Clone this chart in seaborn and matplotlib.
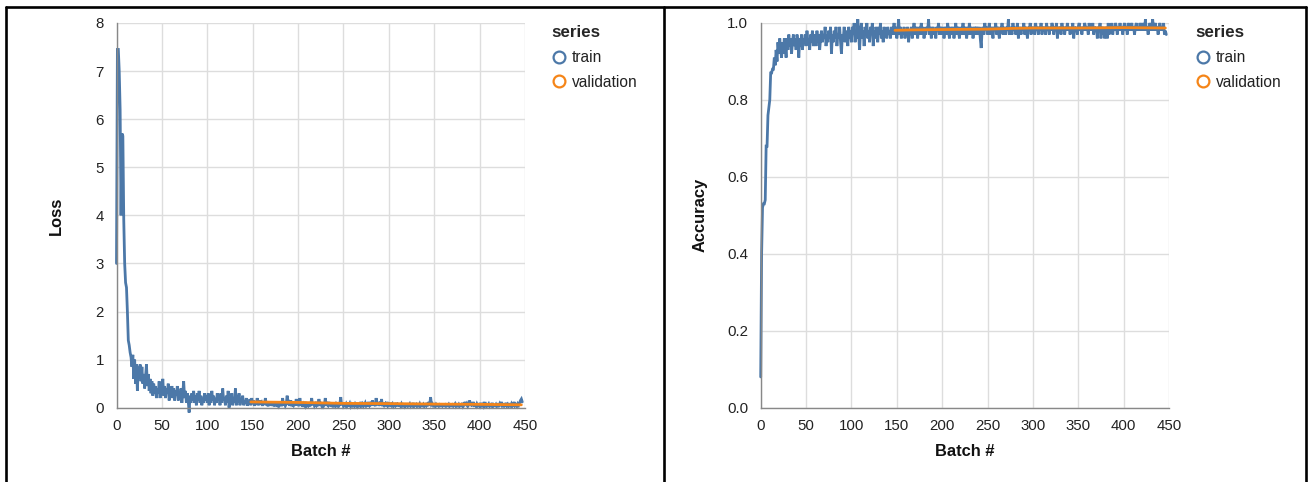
import numpy as np
import pandas as pd
import matplotlib
matplotlib.use("Agg")
import matplotlib.pyplot as plt
from matplotlib.lines import Line2D
import seaborn as sns

# ---------------- data (one value per batch) ----------------
train_loss = [
    3.0, 7.45, 7.45, 7.0, 6.2, 4.0, 5.7, 5.65, 3.9, 3.0, 2.6, 2.5, 2.0, 1.4, 1.3, 1.15, 1.05, 0.85, 1.1, 0.6,
    1.0, 0.5, 0.9, 0.35, 0.85, 0.6, 0.9, 0.55, 0.85, 0.5, 0.7, 0.4, 0.65, 0.9, 0.45, 0.7, 0.35, 0.6, 0.3, 0.55,
    0.25, 0.5, 0.3, 0.45, 0.2, 0.4, 0.3, 0.55, 0.2, 0.45, 0.3, 0.6, 0.25, 0.45, 0.2, 0.4, 0.3, 0.5, 0.15, 0.35,
    0.25, 0.45, 0.2, 0.4, 0.15, 0.35, 0.25, 0.45, 0.15, 0.3, 0.2, 0.4, 0.1, 0.3, 0.55, 0.2, 0.35, 0.1, 0.3, 0.15,
    -0.1, 0.25, 0.1, 0.3, 0.15, 0.35, 0.1, 0.25, 0.05, 0.3, 0.15, 0.35, 0.1, 0.25, 0.05, 0.2, 0.1, 0.3, 0.15, 0.25,
    0.1, 0.3, 0.05, 0.2, 0.1, 0.35, 0.15, 0.25, 0.05, 0.2, 0.1, 0.3, 0.15, 0.25, 0.05, 0.3, 0.1, 0.4, 0.15, 0.2,
    0.05, 0.25, 0.1, 0.35, 0.0, 0.2, 0.1, 0.3, 0.05, 0.2, 0.1, 0.4, 0.05, 0.25, 0.1, 0.3, 0.05, 0.2, 0.1, 0.25,
    0.05, 0.15, 0.08, 0.2, 0.04, 0.12, 0.06, 0.18, 0.05, 0.2, 0.08, 0.15, 0.04, 0.12, 0.06, 0.2, 0.05, 0.1, 0.15, 0.06,
    0.1, 0.04, 0.12, 0.06, 0.2, 0.05, 0.08, 0.03, 0.1, 0.05, 0.12, 0.04, 0.08, 0.06, 0.1, 0.03, 0.07, 0.05, 0.1, 0.04,
    0.08, 0.12, 0.03, 0.2, 0.05, 0.1, 0.04, 0.08, 0.25, 0.06, 0.1, 0.04, 0.15, 0.03, 0.08, 0.05, 0.1, 0.04, 0.18, 0.06,
    0.1, 0.03, 0.2, 0.05, 0.1, 0.02, 0.08, 0.05, 0.12, 0.03, 0.06, 0.04, 0.1, 0.03, 0.07, 0.2, 0.05, 0.1, 0.04, 0.08,
    0.05, 0.12, 0.03, 0.18, 0.05, 0.08, 0.04, 0.1, 0.03, 0.06, 0.2, 0.04, 0.08, 0.05, 0.12, 0.03, 0.07, 0.05, 0.1, 0.04,
    0.06, 0.03, 0.08, 0.05, 0.1, 0.04, 0.07, 0.22, 0.05, 0.1, 0.03, 0.06, 0.04, 0.08, 0.03, 0.06, 0.05, 0.09, 0.03, 0.07,
    0.04, 0.06, 0.03, 0.08, 0.05, 0.1, 0.03, 0.06, 0.04, 0.12, 0.05, 0.08, 0.03, 0.06, 0.1, 0.04, 0.07, 0.03, 0.12, 0.05,
    0.08, 0.04, 0.15, 0.05, 0.1, 0.03, 0.2, 0.06, 0.12, 0.04, 0.08, 0.05, 0.18, 0.03, 0.1, 0.05, 0.08, 0.03, 0.12, 0.04,
    0.07, 0.03, 0.1, 0.05, 0.08, 0.03, 0.06, 0.04, 0.1, 0.03, 0.07, 0.05, 0.06, 0.03, 0.08, 0.04, 0.06, 0.03, 0.09, 0.04,
    0.06, 0.03, 0.05, 0.08, 0.03, 0.06, 0.04, 0.1, 0.03, 0.05, 0.07, 0.03, 0.06, 0.04, 0.08, 0.03, 0.05, 0.04, 0.07, 0.03,
    0.06, 0.04, 0.1, 0.03, 0.12, 0.05, 0.22, 0.06, 0.08, 0.04, 0.06, 0.03, 0.07, 0.04, 0.05, 0.03, 0.06, 0.04, 0.05, 0.03,
    0.05, 0.04, 0.06, 0.03, 0.05, 0.04, 0.07, 0.03, 0.05, 0.04, 0.06, 0.03, 0.05, 0.08, 0.03, 0.06, 0.04, 0.07, 0.03, 0.05,
    0.04, 0.1, 0.03, 0.06, 0.12, 0.04, 0.08, 0.03, 0.06, 0.15, 0.04, 0.07, 0.03, 0.12, 0.05, 0.06, 0.03, 0.08, 0.04, 0.06,
    0.03, 0.1, 0.04, 0.06, 0.03, 0.12, 0.04, 0.07, 0.03, 0.05, 0.08, 0.03, 0.06, 0.04, 0.1, 0.03, 0.05, 0.04, 0.07, 0.03,
    0.06, 0.04, 0.08, 0.03, 0.12, 0.04, 0.06, 0.03, 0.05, 0.1, 0.04, 0.07, 0.03, 0.06, 0.04, 0.08, 0.03, 0.05, 0.12, 0.04,
    0.06, 0.03, 0.08, 0.05, 0.1, 0.15, 0.18, 0.12,
]
train_acc = [
    0.08, 0.40, 0.52, 0.53, 0.53, 0.54, 0.68, 0.68, 0.76, 0.78, 0.80, 0.87, 0.87, 0.88, 0.88, 0.91, 0.89, 0.93, 0.90, 0.95,
    0.92, 0.96, 0.93, 0.91, 0.95, 0.92, 0.96, 0.94, 0.91, 0.96, 0.93, 0.97, 0.94, 0.96, 0.92, 0.95, 0.97, 0.94, 0.96, 0.93,
    0.97, 0.95, 0.91, 0.96, 0.94, 0.97, 0.93, 0.96, 0.95, 0.97, 0.94, 0.98, 0.95, 0.96, 0.93, 0.97, 0.95, 0.98, 0.94, 0.96,
    0.97, 0.94, 0.98, 0.95, 0.97, 0.93, 0.96, 0.98, 0.95, 0.97, 0.96, 0.99, 0.94, 0.97, 0.95, 0.98, 0.96, 0.99, 0.92, 0.97,
    0.95, 0.98, 0.96, 0.99, 0.94, 0.97, 0.96, 0.99, 0.95, 0.92, 0.97, 0.96, 0.99, 0.95, 0.97, 0.98, 0.94, 0.99, 0.96, 0.98,
    0.95, 0.99, 0.97, 1.0, 0.95, 0.98, 0.96, 1.01, 0.97, 0.93, 0.98, 1.0, 0.96, 0.98, 0.94, 0.99, 0.97, 1.0, 0.96, 0.98,
    0.95, 0.99, 0.97, 1.0, 0.94, 0.98, 0.96, 0.99, 0.97, 0.95, 0.99, 0.97, 1.0, 0.96, 0.98, 0.95, 0.99, 0.97, 0.98, 0.96,
    0.99, 0.97, 0.98, 0.96, 0.99, 0.97, 0.98, 1.0, 0.97, 0.99, 0.96, 0.98, 1.01, 0.97, 0.99, 0.96, 0.98, 0.97, 0.99, 0.96,
    0.98, 0.97, 0.99, 0.95, 0.98, 0.97, 0.99, 0.96, 0.98, 1.0, 0.97, 0.99, 0.98, 0.96, 0.99, 0.97, 0.98, 1.0, 0.97, 0.99,
    0.96, 0.98, 0.97, 0.99, 0.98, 1.01, 0.97, 0.99, 0.96, 0.98, 0.99, 0.97, 0.98, 0.96, 0.99, 0.98, 1.0, 0.97, 0.99, 0.98,
    0.97, 0.99, 0.96, 0.98, 0.99, 0.97, 1.0, 0.98, 0.96, 0.99, 0.97, 0.98, 0.99, 0.96, 0.98, 1.0, 0.97, 0.99, 0.98, 0.96,
    0.99, 0.97, 0.98, 1.0, 0.97, 0.99, 0.98, 0.96, 0.99, 0.97, 1.0, 0.98, 0.97, 0.99, 0.96, 0.98, 0.99, 0.97, 0.99, 0.98,
    0.97, 0.99, 0.96, 0.935, 0.98, 0.99, 0.97, 1.0, 0.98, 0.99, 0.97, 0.98, 1.0, 0.97, 0.99, 0.98, 0.96, 0.99, 0.98, 1.0,
    0.97, 0.99, 0.98, 0.96, 0.99, 0.98, 1.0, 0.97, 0.99, 0.98, 0.97, 0.99, 0.98, 1.01, 0.97, 0.99, 0.98, 0.97, 1.0, 0.98,
    0.99, 0.97, 0.98, 1.0, 0.96, 0.99, 0.98, 0.97, 0.99, 0.98, 1.0, 0.97, 0.99, 0.98, 0.96, 0.99, 0.98, 1.0, 0.97, 0.99,
    0.98, 0.99, 0.97, 1.0, 0.98, 0.99, 0.97, 0.99, 0.98, 1.0, 0.97, 0.99, 0.98, 0.99, 0.97, 1.0, 0.98, 0.99, 0.97, 0.99,
    0.98, 1.0, 0.99, 0.97, 0.99, 0.98, 1.0, 0.96, 0.99, 0.98, 0.99, 0.97, 1.0, 0.98, 0.99, 0.97, 0.99, 0.98, 1.0, 0.98,
    0.99, 0.97, 0.99, 0.98, 1.0, 0.96, 0.99, 0.98, 0.99, 0.97, 0.99, 1.0, 0.98, 0.99, 0.97, 0.99, 0.98, 1.0, 0.99, 0.98,
    0.99, 0.97, 1.0, 0.98, 0.99, 0.98, 1.0, 0.97, 0.99, 0.98, 0.99, 0.96, 0.99, 0.98, 1.0, 0.96, 0.99, 0.97, 0.99, 0.96,
    0.98, 0.99, 0.96, 1.0, 0.97, 0.99, 0.98, 1.0, 0.97, 0.99, 0.98, 1.0, 0.99, 0.97, 0.99, 0.98, 1.0, 0.98, 0.99, 0.97,
    0.99, 1.0, 0.98, 0.99, 0.97, 1.0, 0.99, 0.98, 0.99, 1.0, 0.98, 0.99, 0.97, 0.99, 1.0, 0.98, 0.99, 0.98, 1.0, 0.99,
    0.98, 1.0, 0.99, 0.98, 1.01, 0.98, 0.99, 0.97, 0.99, 1.0, 0.98, 0.99, 1.01, 0.98, 0.99, 1.0, 0.98, 0.99, 0.97, 0.99,
    1.0, 0.98, 0.99, 0.98, 1.0, 0.97, 0.98, 0.97,
]
loss_batch = list(range(len(train_loss)))
acc_batch = list(range(len(train_acc)))

val_loss_batch = [148, 200, 250, 300, 350, 400, 446]
val_loss = [0.12, 0.11, 0.09, 0.085, 0.075, 0.07, 0.06]
val_acc_batch = [148, 165, 200, 250, 278, 300, 350, 400, 446]
val_acc = [0.981, 0.982, 0.983, 0.984, 0.986, 0.987, 0.987, 0.988, 0.987]

series_names = ["train", "validation"]
colors = {"train": "#4c78a8", "validation": "#f58518"}
x_ticks = [0, 50, 100, 150, 200, 250, 300, 350, 400, 450]
loss_ticks = [0, 1, 2, 3, 4, 5, 6, 7, 8]
acc_ticks = [0.0, 0.2, 0.4, 0.6, 0.8, 1.0]

loss_df = pd.concat([
    pd.DataFrame({"batch": loss_batch, "value": train_loss, "series": "train"}),
    pd.DataFrame({"batch": val_loss_batch, "value": val_loss, "series": "validation"}),
])
acc_df = pd.concat([
    pd.DataFrame({"batch": acc_batch, "value": train_acc, "series": "train"}),
    pd.DataFrame({"batch": val_acc_batch, "value": val_acc, "series": "validation"}),
])

# ---------------- style ----------------
sns.set_style("white")
plt.rcParams["font.family"] = ["Liberation Sans", "DejaVu Sans"]

W, H = 1311, 482
fig = plt.figure(figsize=(W / 100, H / 100), dpi=100)
fig.patch.set_facecolor("white")

def px_axes(x0, x1, y0, y1):
    return fig.add_axes([x0 / W, 1 - y1 / H, (x1 - x0) / W, (y1 - y0) / H])

ax1 = px_axes(116.5, 525, 23, 407.7)
ax2 = px_axes(760.7, 1169, 23, 407.7)

def style_axis(ax, df, yticks, ylim, ylabel, yfmt):
    sns.lineplot(data=df, x="batch", y="value", hue="series", hue_order=series_names,
                 palette=colors, linewidth=2, legend=False, ax=ax, estimator=None,
                 sort=False)
    for ln in ax.lines:
        ln.set_clip_on(False)
        ln.set_solid_joinstyle("miter")
    ax.set_xlim(0, 450)
    ax.set_ylim(*ylim)
    ax.set_xticks(x_ticks)
    ax.set_yticks(yticks)
    ax.set_yticklabels([yfmt(v) for v in yticks])
    ax.grid(True, color="#dddddd", linewidth=1)
    ax.set_axisbelow(True)
    for s in ["top", "right"]:
        ax.spines[s].set_visible(False)
    for s in ["left", "bottom"]:
        ax.spines[s].set_color("#888888")
        ax.spines[s].set_linewidth(1)
    ax.tick_params(axis="both", which="major", length=5, width=1, color="#888888",
                   labelsize=10.8, labelcolor="#222222", direction="out")
    ax.tick_params(axis="x", pad=3.2)
    ax.tick_params(axis="y", pad=4)
    ax.set_xlabel("Batch #", fontsize=11.9, fontweight="bold", color="#111111")
    ax.set_ylabel(ylabel, fontsize=11.9, fontweight="bold", color="#111111")
    ax.xaxis.set_label_coords(0.5, -0.094)
    ax.yaxis.set_label_coords(-0.13, 0.5)
    handles = [Line2D([], [], linestyle="", marker="o", markersize=8.5,
                      markerfacecolor="none", markeredgewidth=1.6,
                      markeredgecolor=colors[n]) for n in series_names]
    leg = ax.legend(handles, series_names, title="series", loc="upper left",
                    bbox_to_anchor=(1.065, 0.994), frameon=False, borderpad=0,
                    handletextpad=0.3, labelspacing=0.62, handlelength=1.0,
                    fontsize=11.2, title_fontproperties={"weight": "bold", "size": 12.2},
                    alignment="left", borderaxespad=0)
    for t in leg.get_texts():
        t.set_color("#222222")

style_axis(ax1, loss_df, loss_ticks, (0, 8), "Loss", lambda v: f"{v:g}")
style_axis(ax2, acc_df, acc_ticks, (0, 1), "Accuracy", lambda v: f"{v:.1f}")

# outer panel borders
lw = 1.9
def fig_line(xs, ys):
    fig.add_artist(Line2D([x / W for x in xs], [1 - y / H for y in ys],
                          color="black", linewidth=lw, transform=fig.transFigure))
fig_line([6, 1306], [7, 7])
fig_line([6, 6], [7, 482])
fig_line([663.5, 663.5], [7, 482])
fig_line([1306, 1306], [7, 482])

fig.savefig("out.png", dpi=100)
